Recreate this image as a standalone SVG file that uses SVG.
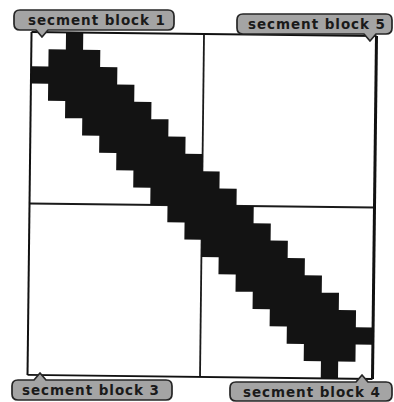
<svg xmlns="http://www.w3.org/2000/svg" width="394" height="402" viewBox="0 0 394 402">
<style>
.frame{fill:none;stroke:#111;}
.mid{stroke:#1a1a1a;stroke-width:1.8;fill:none;}
.band{fill:#131313;}
.tag{fill:#a4a4a4;stroke:#262626;stroke-width:1.7;stroke-linejoin:round;}
.lbl{font-family:"DejaVu Sans","Liberation Sans",sans-serif;font-weight:bold;font-size:13.5px;fill:#1a1a1a;}
</style>
<rect width="394" height="402" fill="#ffffff"/>
<g id="grid" transform="rotate(0.67 202 206)">
  <line class="mid" x1="202" y1="34" x2="202" y2="377"/>
  <line class="mid" x1="29.5" y1="205.5" x2="374.5" y2="205.5"/>
  <polygon id="band" class="band" points="64,34 81.25,34 81.25,51.15 98.5,51.15 98.5,68.3 115.75,68.3 115.75,85.45 133,85.45 133,102.6 150.25,102.6 150.25,119.75 167.5,119.75 167.5,136.9 184.75,136.9 184.75,154.05 202,154.05 202,171.2 219.25,171.2 219.25,188.35 236.5,188.35 236.5,205.5 253.75,205.5 253.75,222.65 271,222.65 271,239.8 288.25,239.8 288.25,256.95 305.5,256.95 305.5,274.1 322.75,274.1 322.75,291.25 340,291.25 340,308.4 357.25,308.4 357.25,325.55 374.5,325.55 374.5,342.7 357.25,342.7 357.25,359.85 340,359.85 340,377 322.75,377 322.75,359.85 305.5,359.85 305.5,342.7 288.25,342.7 288.25,325.55 271,325.55 271,308.4 253.75,308.4 253.75,291.25 236.5,291.25 236.5,274.1 219.25,274.1 219.25,256.95 202,256.95 202,239.8 184.75,239.8 184.75,222.65 167.5,222.65 167.5,205.5 150.25,205.5 150.25,188.35 133,188.35 133,171.2 115.75,171.2 115.75,154.05 98.5,154.05 98.5,136.9 81.25,136.9 81.25,119.75 64,119.75 64,102.6 46.75,102.6 46.75,85.45 29.5,85.45 29.5,68.3 46.75,68.3 46.75,51.15 64,51.15"/>
  <line class="frame" x1="29.5" y1="34" x2="29.5" y2="377" stroke-width="2"/>
  <line class="frame" x1="374.5" y1="34" x2="374.5" y2="377" stroke-width="3"/>
  <line class="frame" x1="29.5" y1="34" x2="374.5" y2="34" stroke-width="2"/>
  <line class="frame" x1="29.5" y1="377" x2="374.5" y2="377" stroke-width="1.8"/>
</g>
<g id="block1">
  <path class="tag" d="M20,10 H168 Q174,10 174,16 V24 Q174,30 168,30 H48 L42,37 L36,30 H20 Q14,30 14,24 V16 Q14,10 20,10 Z"/>
  <text class="lbl" x="28" y="25" textLength="137" lengthAdjust="spacing">secment block 1</text>
</g>
<g id="block5">
  <path class="tag" d="M243,14 H386 Q392,14 392,20 V28 Q392,34 386,34 H376 L370,41 L364,34 H243 Q237,34 237,28 V20 Q237,14 243,14 Z"/>
  <text class="lbl" x="248" y="29" textLength="137" lengthAdjust="spacing">secment block 5</text>
</g>
<g id="block3">
  <path class="tag" d="M18,380 H34 L40,373 L46,380 H166 Q172,380 172,386 V394 Q172,400 166,400 H18 Q12,400 12,394 V386 Q12,380 18,380 Z"/>
  <text class="lbl" x="22" y="395" textLength="137" lengthAdjust="spacing">secment block 3</text>
</g>
<g id="block4">
  <path class="tag" d="M236,382 H356 L362,375 L368,382 H386 Q392,382 392,388 V395 Q392,401 386,401 H236 Q230,401 230,395 V388 Q230,382 236,382 Z"/>
  <text class="lbl" x="243" y="396.5" textLength="137" lengthAdjust="spacing">secment block 4</text>
</g>
</svg>
